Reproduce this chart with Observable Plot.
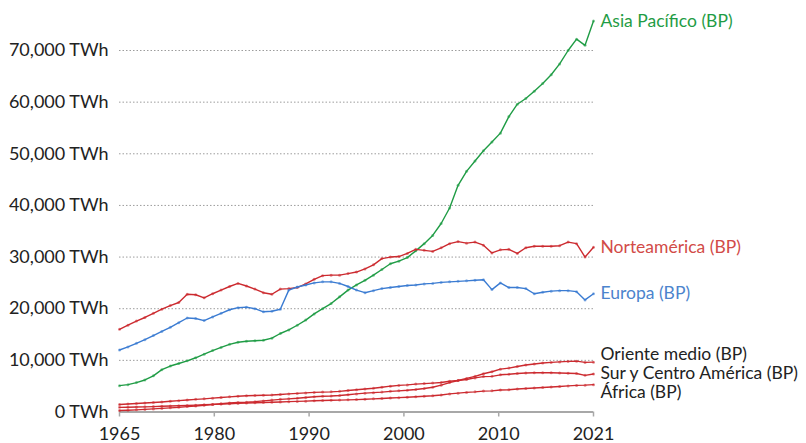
<!DOCTYPE html>
<html><head><meta charset="utf-8">
<script src="https://cdn.jsdelivr.net/npm/d3@7"></script>
<script src="https://cdn.jsdelivr.net/npm/@observablehq/plot@0.6"></script>
<style>html,body{margin:0;padding:0;background:#fff;} svg{display:block}</style>
</head><body><div id="chart"></div>
<script>
const years = d3.range(1965, 2022);

const asiaPacifico = [5100,5300,5700,6200,7000,8200,8900,9400,9900,10500,11200,11900,12500,13100,13500,13700,13800,13900,14300,15200,15900,16800,17800,19000,20000,21000,22300,23600,24600,25500,26500,27600,28700,29200,29900,31200,32600,34200,36500,39500,43900,46600,48600,50600,52300,54000,57200,59600,60700,62100,63600,65300,67400,70000,72200,71000,75700];
const norteamerica = [16000,16800,17600,18300,19100,19900,20600,21200,22800,22700,22100,22900,23600,24300,24900,24400,23800,23100,22800,23800,23900,24100,24800,25700,26400,26500,26500,26800,27100,27700,28500,29700,30000,30100,30700,31500,31300,31100,31800,32600,33000,32700,32900,32300,30800,31400,31500,30700,31800,32100,32100,32100,32200,32900,32600,30000,31900];
const europa = [12000,12600,13300,14000,14800,15600,16400,17300,18200,18100,17700,18400,19100,19800,20200,20300,20000,19400,19500,19900,23600,24200,24600,25000,25200,25200,24900,24300,23600,23100,23500,23900,24100,24300,24500,24600,24800,24900,25100,25200,25300,25400,25500,25600,23700,25000,24100,24100,23900,22900,23200,23400,23500,23500,23300,21700,22900];
const orienteMedio = [300,350,420,500,600,700,800,900,1050,1150,1300,1450,1600,1750,1850,1900,2000,2150,2300,2450,2550,2650,2800,2950,3050,3100,3200,3350,3500,3650,3750,3850,4000,4100,4200,4350,4550,4800,5200,5700,6100,6500,6900,7400,7800,8300,8500,8800,9100,9300,9500,9600,9700,9800,9850,9600,9650];
const surCentroAmerica = [1450,1550,1650,1750,1850,1950,2070,2200,2330,2450,2550,2680,2800,2930,3050,3150,3200,3250,3300,3400,3500,3600,3700,3800,3850,3900,4000,4150,4300,4450,4600,4800,5000,5150,5250,5400,5500,5600,5700,5950,6100,6300,6600,6850,6900,7200,7300,7450,7550,7600,7600,7600,7550,7500,7450,7100,7350];
const africa = [900,930,970,1000,1050,1100,1150,1200,1270,1330,1400,1470,1530,1600,1670,1730,1800,1850,1900,1950,2000,2050,2100,2170,2220,2270,2300,2350,2400,2470,2550,2620,2700,2780,2850,2950,3050,3150,3300,3500,3650,3800,3900,4050,4100,4250,4300,4450,4550,4650,4750,4850,4950,5050,5150,5200,5300];

const seriesNames = ["Asia Pacífico (BP)", "Norteamérica (BP)", "Europa (BP)", "Oriente medio (BP)", "Sur y Centro América (BP)", "África (BP)"];
const seriesValues = [asiaPacifico, norteamerica, europa, orienteMedio, surCentroAmerica, africa];
const lineColors = ["#1f9c45", "#cc2a2f", "#3a7bd2", "#cc2a2f", "#cc2a2f", "#cc2a2f"];
const labelColors = ["#1f9c45", "#d24b47", "#4c84cd", "#222222", "#222222", "#222222"];

const yTicks = [0, 10000, 20000, 30000, 40000, 50000, 60000, 70000];
const xTickLabels = ["1965", "1980", "1990", "2000", "2010", "2021"];

// evenly spaced tick positions across the year domain (as in the original)
const x0 = years[0], x1 = years[years.length - 1];
const xTickPositions = xTickLabels.map((_, i) => x0 + i * (x1 - x0) / (xTickLabels.length - 1));

// label placement: last value of each series, dodged to avoid overlaps
const minGap = 3700;
let labels = seriesNames.map((name, i) => ({name, i, year: x1, v: seriesValues[i][seriesValues[i].length - 1]}));
labels.sort((a, b) => b.v - a.v);
let clusters = labels.map(l => ({items: [l], mean: l.v}));
let changed = true;
while (changed) {
  changed = false;
  for (let k = 0; k < clusters.length - 1; k++) {
    const a = clusters[k], b = clusters[k + 1];
    const aBottom = a.mean - (a.items.length - 1) * minGap / 2;
    const bTop = b.mean + (b.items.length - 1) * minGap / 2;
    if (aBottom - bTop < minGap) {
      const items = a.items.concat(b.items);
      clusters.splice(k, 2, {items, mean: d3.mean(items, d => d.v)});
      changed = true;
      break;
    }
  }
}
for (const c of clusters) {
  c.items.forEach((l, j) => { l.labelY = c.mean + ((c.items.length - 1) / 2 - j) * minGap; });
}

const marks = [
  Plot.ruleY(yTicks.filter(d => d > 0), {stroke: "#9c9c9c", strokeWidth: 1, strokeDasharray: "1.5,2"}),
  Plot.ruleY([0], {stroke: "#a8a8a8", strokeWidth: 2}),
  Plot.axisY({ticks: yTicks, tickFormat: d => d3.format(",")(d) + " TWh", tickSize: 0, tickPadding: 11, label: null, fill: "#222"}),
  Plot.axisX({ticks: xTickPositions, tickFormat: d => xTickLabels[xTickPositions.indexOf(d)], tickSize: 5, tickPadding: 10, stroke: "#a8a8a8", strokeWidth: 1.5, label: null, fill: "#222"})
];
seriesValues.forEach((vals, i) => {
  const rows = years.map((year, k) => ({year, value: vals[k]}));
  marks.push(Plot.line(rows, {x: "year", y: "value", stroke: lineColors[i], strokeWidth: 1.4}));
  marks.push(Plot.dot(rows, {x: "year", y: "value", r: 1.5, fill: lineColors[i], fillOpacity: 0.55}));
});
labels.forEach(l => {
  marks.push(Plot.text([l], {x: "year", y: "labelY", text: "name", dx: 7, textAnchor: "start", fill: labelColors[l.i], fontSize: 17.5}));
});

const chart = Plot.plot({
  width: 806,
  height: 443,
  marginLeft: 119,
  marginRight: 213,
  marginTop: 50,
  marginBottom: 31.5,
  x: {domain: [x0, x1]},
  y: {domain: [0, 70000]},
  style: {fontFamily: "Lato", fontSize: "18px", color: "#222", background: "#fff"},
  marks
});
document.getElementById("chart").appendChild(chart);
</script>
</body></html>
